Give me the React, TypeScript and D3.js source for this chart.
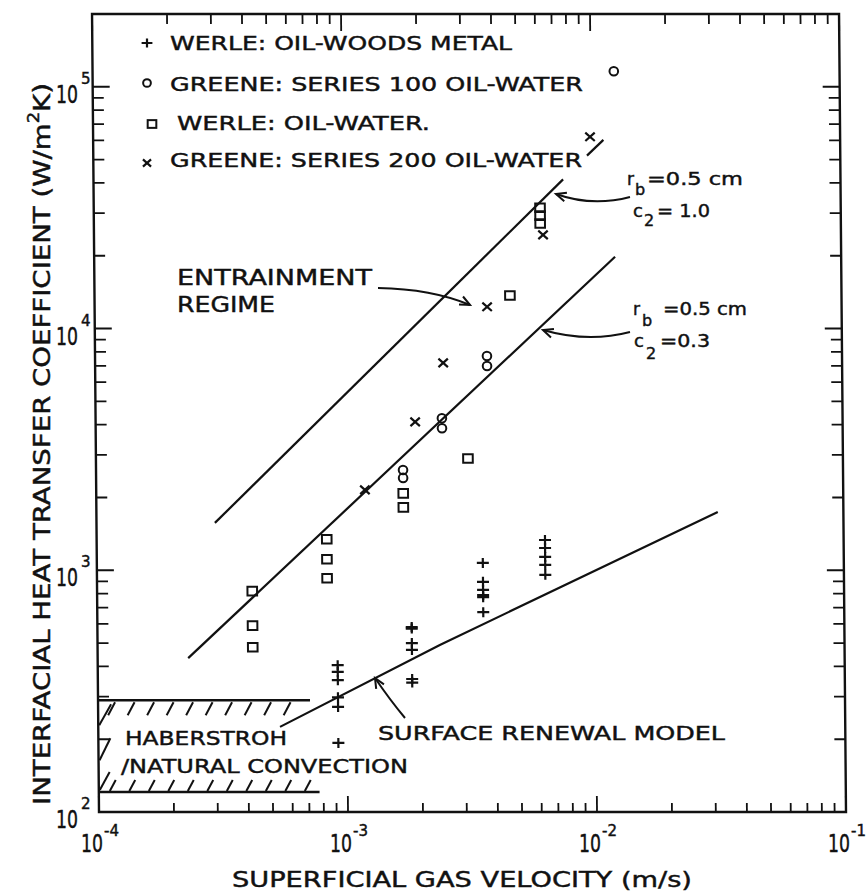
import React from "react";
import * as d3 from "d3";

// WERLE: oil - Woods metal (+), [velocity m/s, h W/m2K]
const werleMetal: [number, number][] = [
  [9.2e-4, 405], [9.2e-4, 380], [9.2e-4, 351], [9.2e-4, 298], [9.2e-4, 272], [9.2e-4, 193],
  [1.83e-3, 582], [1.83e-3, 574], [1.83e-3, 500], [1.83e-3, 468], [1.83e-3, 355], [1.83e-3, 343],
  [3.55e-3, 1072], [3.55e-3, 896], [3.55e-3, 829], [3.55e-3, 790], [3.55e-3, 774], [3.55e-3, 671],
  [6.32e-3, 1334], [6.32e-3, 1236], [6.32e-3, 1135], [6.32e-3, 1052], [6.32e-3, 957],
];

// GREENE: series 100 oil-water (o)
const greene100: [number, number][] = [
  [1.24e-2, 116000], [3.75e-3, 7700], [3.75e-3, 7000], [2.46e-3, 4250], [2.46e-3, 3870],
  [1.71e-3, 2600], [1.71e-3, 2410],
];

// WERLE: oil-water (square)
const werleWater: [number, number][] = [
  [4.2e-4, 820], [4.2e-4, 590], [4.2e-4, 480],
  [8.4e-4, 1343], [8.4e-4, 1110], [8.4e-4, 927],
  [1.71e-3, 2080], [1.71e-3, 1820], [3.12e-3, 2900], [4.66e-3, 13700],
  [6.2e-3, 31600], [6.2e-3, 29300], [6.2e-3, 27200],
];

// GREENE: series 200 oil-water (x)
const greene200: [number, number][] = [
  [9.9e-3, 62100], [6.36e-3, 24400], [3.77e-3, 12300], [2.5e-3, 7210], [1.92e-3, 4110], [1.2e-3, 2150],
];

// model curves
const entrainC10: [number, number][] = [[2.99e-4, 1570], [7.69e-3, 41400]];
const entrainC10Tail: [number, number][] = [[9.61e-3, 51900], [1.12e-2, 60300]];
const entrainC03: [number, number][] = [[2.31e-4, 433], [1.236e-2, 19800]];
const surfaceRenewal: [number, number][] = [[5.37e-4, 225], [2.37e-3, 491], [3.13e-2, 1742]];

// Haberstroh natural convection band
const haberstrohH = [121, 290];
const haberstrohEnd = [7.7e-4, 7.1e-4];

const xDecades = [-4, -3, -2, -1];
const yDecades = [2, 3, 4, 5];

const legend = [
  { sym: "plus", label: "WERLE: OIL-WOODS METAL", y: 50, len: 342, mx: 147, my: 43 },
  { sym: "circle", label: "GREENE: SERIES 100 OIL-WATER", y: 91, len: 413, mx: 147, my: 83 },
  { sym: "square", label: "WERLE: OIL-WATER.", y: 130, len: 253, mx: 152, my: 124 },
  { sym: "cross", label: "GREENE: SERIES 200 OIL-WATER", y: 167, len: 412, mx: 147, my: 163 },
];

const ink = "#111";

function marker(sym: string, cx: number, cy: number, s = 1, key?: any) {
  if (sym === "plus")
    return <path key={key} d={`M${cx - 6 * s},${cy}H${cx + 6 * s}M${cx},${cy - 5 * s}V${cy + 5 * s}`} stroke={ink} strokeWidth={2.2} fill="none" />;
  if (sym === "circle")
    return <circle key={key} cx={cx} cy={cy} r={4.3 * s} stroke={ink} strokeWidth={2} fill="none" />;
  if (sym === "square")
    return <rect key={key} x={cx - 4.8 * s} y={cy - 4.3 * s} width={9.6 * s} height={8.6 * s} stroke={ink} strokeWidth={2} fill="none" />;
  return <path key={key} d={`M${cx - 4.5 * s},${cy - 4 * s}L${cx + 4.5 * s},${cy + 4 * s}M${cx - 4.5 * s},${cy + 4 * s}L${cx + 4.5 * s},${cy - 4 * s}`} stroke={ink} strokeWidth={2.2} fill="none" />;
}

function head(tx: number, ty: number, fx: number, fy: number, len = 11, ang = 0.42) {
  const a = Math.atan2(fy - ty, fx - tx);
  const p1 = [tx + len * Math.cos(a + ang), ty + len * Math.sin(a + ang)];
  const p2 = [tx + len * Math.cos(a - ang), ty + len * Math.sin(a - ang)];
  return `M${p1[0]},${p1[1]}L${tx},${ty}L${p2[0]},${p2[1]}`;
}

const arrows = [
  { d: "M630,197 Q592,207 556,194", t: [556, 194], f: [572, 199] },
  { d: "M630,332 Q588,343 543,330", t: [543, 330], f: [560, 336] },
  { d: "M378,288 Q432,289 470,305", t: [470, 305], f: [454, 297] },
  { d: "M405,718 Q390,700 375,678", t: [375, 678], f: [382, 690] },
];

export default function App() {
  const left = 99, right = 846, top = 14, bottom = 812;
  const x = d3.scaleLog().domain([1e-4, 1e-1]).range([left, right]);
  const y = d3.scaleLog().domain([100, 2e5]).range([bottom, top]);
  const line = d3.line<[number, number]>().x(d => x(d[0])).y(d => y(d[1]));

  const isMajor = (t: number) => Math.abs(Math.log10(t) - Math.round(Math.log10(t))) < 1e-6;
  const xt = x.ticks();
  const yt = y.ticks().filter(t => t < 1.9e5);

  const yHi = y(haberstrohH[1]);
  const yLo = y(haberstrohH[0]);
  const xHiEnd = x(haberstrohEnd[1]);
  const xLoEnd = x(haberstrohEnd[0]);
  const hiHatch = d3.range(112, xHiEnd - 4, 19.5);
  const loHatch = d3.range(110, xLoEnd - 12, 19.5);

  return (
    <svg width={866} height={894} style={{ position: "absolute", left: 0, top: 0, background: "#fff" }}
      fontFamily="DejaVu Sans" fill={ink}>
      <rect width={866} height={894} fill="#fff" />
      {/* plot body, slightly sheared like the scanned original */}
      <g transform={`translate(0,${bottom}) skewX(0.5) translate(0,${-bottom})`}>
        <rect x={left} y={top} width={right - left} height={bottom - top} fill="none" stroke={ink} strokeWidth={2.4} />
        {xt.map((t, i) => {
          const L = isMajor(t) ? 16 : 9;
          return (
            <g key={"xt" + i} stroke={ink} strokeWidth={1.8}>
              <line x1={x(t)} x2={x(t)} y1={bottom} y2={bottom - L} />
              <line x1={x(t)} x2={x(t)} y1={top} y2={top + L + 1} />
            </g>
          );
        })}
        {yt.map((t, i) => {
          const L = isMajor(t) ? 17 : 11;
          return (
            <g key={"yt" + i} stroke={ink} strokeWidth={1.8}>
              <line x1={left} x2={left + L} y1={y(t)} y2={y(t)} />
              <line x1={right} x2={right - L} y1={y(t)} y2={y(t)} />
            </g>
          );
        })}

        {/* Haberstroh band */}
        <g stroke={ink} strokeWidth={2} fill="none">
          <line x1={left} x2={xHiEnd} y1={yHi} y2={yHi} strokeWidth={2.4} />
          <line x1={left} x2={xLoEnd} y1={yLo} y2={yLo} strokeWidth={2.4} />
          {hiHatch.map((px, i) => <line key={"hh" + i} x1={px + 4} y1={yHi + 2} x2={px - 3} y2={yHi + 15} />)}
          {loHatch.map((px, i) => <line key={"lh" + i} x1={px} y1={yLo - 1} x2={px + 6} y2={yLo - 12} />)}
          <line x1={left + 1} y1={yHi + 25} x2={left + 13} y2={yHi + 4} />
          <line x1={left + 1} y1={yHi + 60} x2={left + 12} y2={yHi + 38} />
          <line x1={left + 1} y1={yLo - 2} x2={left + 11} y2={yLo - 20} />
        </g>

        {/* model lines */}
        <g stroke={ink} strokeWidth={2.2} fill="none">
          <path d={line(entrainC10) || ""} />
          <path d={line(entrainC10Tail) || ""} />
          <path d={line(entrainC03) || ""} />
          <path d={line(surfaceRenewal) || ""} />
        </g>

        {/* data */}
        {werleMetal.map((d, i) => marker("plus", x(d[0]), y(d[1]), 1, "p" + i))}
        {greene100.map((d, i) => marker("circle", x(d[0]), y(d[1]), 1, "c" + i))}
        {werleWater.map((d, i) => marker("square", x(d[0]), y(d[1]), 1, "s" + i))}
        {greene200.map((d, i) => marker("cross", x(d[0]), y(d[1]), 1.05, "x" + i))}
      </g>

      {/* all lettering gets a hairline stroke to mimic the heavy template lettering */}
      <g stroke={ink} strokeWidth={0.45}>
        {legend.map((l, i) => (
          <g key={"lg" + i}>
            {marker(l.sym, l.mx, l.my, 0.9)}
            <text x={l.sym === "square" ? 177 : 170} y={l.y} fontSize={20} textLength={l.len} lengthAdjust="spacingAndGlyphs">{l.label}</text>
          </g>
        ))}

        {/* tick labels: 10 with a raised exponent */}
        {xDecades.map(e => {
          const px = x(Math.pow(10, e));
          return (
            <text key={"xl" + e} x={px - 18} y={852} fontSize={25}>
              <tspan textLength={22} lengthAdjust="spacingAndGlyphs">10</tspan>
              <tspan dx={1} dy={-16} fontSize={15}>{"-" + Math.abs(e)}</tspan>
            </text>
          );
        })}
        {yDecades.map(e => {
          const py = y(Math.pow(10, e));
          return (
            <text key={"yl" + e} x={56} y={py + 16} fontSize={25}>
              <tspan textLength={22} lengthAdjust="spacingAndGlyphs">10</tspan>
              <tspan dx={3} dy={-19} fontSize={15}>{e}</tspan>
            </text>
          );
        })}

        {/* axis titles */}
        <text x={232} y={887} fontSize={22} textLength={460} lengthAdjust="spacingAndGlyphs">SUPERFICIAL GAS VELOCITY (m/s)</text>
        <text transform="translate(50,805) rotate(-90)" fontSize={23} textLength={722} lengthAdjust="spacingAndGlyphs">
          INTERFACIAL HEAT TRANSFER COEFFICIENT (W/m<tspan dy={-11} fontSize={15}>2</tspan><tspan dy={11}>K)</tspan>
        </text>

        {/* annotations */}
        <text x={177} y={285} fontSize={22} textLength={195} lengthAdjust="spacingAndGlyphs">ENTRAINMENT</text>
        <text x={177} y={312} fontSize={22} textLength={98} lengthAdjust="spacingAndGlyphs">REGIME</text>
        <text x={125} y={745} fontSize={20} textLength={162} lengthAdjust="spacingAndGlyphs">HABERSTROH</text>
        <text x={121} y={773} fontSize={20} textLength={287} lengthAdjust="spacingAndGlyphs">/NATURAL CONVECTION</text>
        <text x={378} y={740} fontSize={20} textLength={347} lengthAdjust="spacingAndGlyphs">SURFACE RENEWAL MODEL</text>

        <text x={627} y={185} fontSize={17}>r</text>
        <text x={635} y={195} fontSize={16}>b</text>
        <text x={647} y={185} fontSize={18} textLength={96} lengthAdjust="spacingAndGlyphs">=0.5 cm</text>
        <text x={633} y={217} fontSize={18}>c</text>
        <text x={644} y={226} fontSize={16}>2</text>
        <text x={657} y={217} fontSize={18} textLength={53} lengthAdjust="spacingAndGlyphs">= 1.0</text>

        <text x={633} y={315} fontSize={17}>r</text>
        <text x={642} y={326} fontSize={16}>b</text>
        <text x={663} y={315} fontSize={18} textLength={84} lengthAdjust="spacingAndGlyphs">=0.5 cm</text>
        <text x={634} y={347} fontSize={18}>c</text>
        <text x={646} y={359} fontSize={16}>2</text>
        <text x={660} y={347} fontSize={18} textLength={50} lengthAdjust="spacingAndGlyphs">=0.3</text>
      </g>

      <g stroke={ink} strokeWidth={2} fill="none">
        {arrows.map((a, i) => (
          <g key={"ar" + i}>
            <path d={a.d} />
            <path d={head(a.t[0], a.t[1], a.f[0], a.f[1])} />
          </g>
        ))}
      </g>
    </svg>
  );
}
